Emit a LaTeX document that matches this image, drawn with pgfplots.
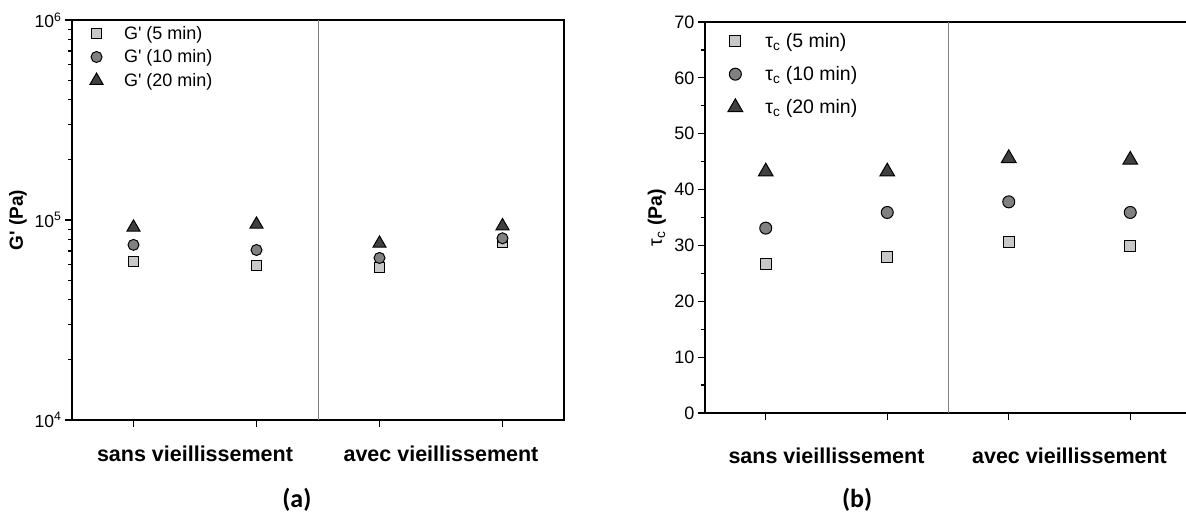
\documentclass[border=0pt]{standalone}
\usepackage{fontspec}
\setmainfont{Liberation Sans}
\newfontfamily\carlito{Carlito}
\usepackage{pgfplots}
\usepackage{pgfplotstable}
\pgfplotsset{compat=1.18}

\definecolor{fillA}{HTML}{C8C8C8}
\definecolor{fillB}{HTML}{808080}
\definecolor{fillC}{HTML}{404040}
\definecolor{sep}{HTML}{808080}

% G' (Pa) at 5, 10, 20 min
\pgfplotstableread{
x five ten twenty
1 61700 75100 91900
2 58900 70800 95100
3 58000 64600 76400
4 77000 81000 93300
}\gdata

% tau_c (Pa) at 5, 10, 20 min
\pgfplotstableread{
x five ten twenty
1 26.7 33.1 43.2
2 27.9 35.9 43.2
3 30.7 37.8 45.6
4 29.9 35.9 45.3
}\tdata

\pgfplotsset{
  panel/.style={
    scale only axis,
    xmin=0.5, xmax=4.5,
    xtick={1,2,3,4}, xticklabels={,,,},
    extra x ticks={1.5,3.5},
    extra x tick labels={sans vieillissement,avec vieillissement},
    tick pos=left, tick align=outside,
    major tick length=7pt, minor tick length=4pt,
    axis line style={line width=1.2pt},
    every tick/.style={black, line width=1.2pt},
    tick label style={font=\fontsize{18}{20}\selectfont},
    /pgf/number format/assume math mode=true,
    ylabel style={rotate=0, anchor=center},
    xlabel style={anchor=center, font=\carlito\bfseries\fontsize{26}{28}\selectfont},
    legend style={draw=none, fill=none, anchor=north west,
      font=\fontsize{18}{20}\selectfont, cells={anchor=west}},
    legend cell align=left,
  },
  sq/.style={only marks, mark=square*, mark size=#1,
    mark options={fill=fillA, draw=black, line width=1pt}},
  ci/.style={only marks, mark=*, mark size=#1,
    mark options={fill=fillB, draw=black, line width=1pt}},
  tr/.style={only marks, mark=triangle*, mark size=#1,
    mark options={fill=fillC, draw=black, line width=1pt}},
}

\begin{document}
\begin{tikzpicture}[x=1pt,y=1pt]
\path[use as bounding box, clip] (0,0) rectangle (1186,513);

\begin{axis}[panel,
  at={(72pt,93pt)}, anchor=south west, width=492pt, height=400pt,
  ymode=log, ymin=1e4, ymax=1e6,
  ytick={1e4,1e5,1e6},
  yticklabels={10\textsuperscript{4},10\textsuperscript{5},10\textsuperscript{6}},
  minor ytick={2e4,3e4,4e4,5e4,6e4,7e4,8e4,9e4,2e5,3e5,4e5,5e5,6e5,7e5,8e5,9e5},
  yticklabel style={font=\fontsize{17.5}{20}\selectfont},
  extra x tick style={major tick length=0pt,
    tick label style={font=\bfseries\fontsize{21.5}{24}\selectfont, yshift=-22pt}},
  ylabel={\bfseries G\textquotesingle\ (Pa)},
  ylabel style={at={(axis description cs:-0.11,0.5)}, rotate=0, font=\fontsize{19}{22}\selectfont},
  xlabel={(a)},
  xlabel style={at={(axis description cs:0.457,-0.2)}},
  legend style={at={(axis description cs:0.02,0.995)}, row sep=5pt},
  legend image code/.code={\path[draw=none] (0pt,-1pt) rectangle (37pt,1pt); \draw[#1] plot coordinates {(11.5pt,0pt)};},
]
\addplot[sep, line width=0.8pt, forget plot] coordinates {(2.5,1e4) (2.5,1e6)};
\addplot[sq=5pt] table[x=x, y=five] {\gdata};
\addlegendentry{G\textquotesingle\ (5 min)}
\addplot[ci=5.5pt] table[x=x, y=ten] {\gdata};
\addlegendentry{G\textquotesingle\ (10 min)}
\addplot[tr=7.5pt] table[x=x, y=twenty] {\gdata};
\addlegendentry{G\textquotesingle\ (20 min)}
\end{axis}

\begin{axis}[panel,
  at={(705pt,100pt)}, anchor=south west, width=486pt, height=391pt,
  ymin=0, ymax=70,
  ytick={0,10,...,70}, minor ytick={5,15,...,65},
  extra x tick style={major tick length=0pt,
    tick label style={font=\bfseries\fontsize{21.5}{24}\selectfont, yshift=-31pt}},
  ylabel={τ\textsubscript{c} \bfseries (Pa)},
  ylabel style={at={(axis description cs:-0.099,0.5)}, font=\fontsize{19.5}{22}\selectfont},
  xlabel={(b)},
  xlabel style={at={(axis description cs:0.313,-0.223)}},
  legend style={at={(axis description cs:0.025,0.982)}, row sep=13.5pt,
    font=\fontsize{19.5}{22}\selectfont},
  legend image code/.code={\path[draw=none] (0pt,-1pt) rectangle (43pt,1pt); \draw[#1] plot coordinates {(15pt,0pt)};},
]
\addplot[sep, line width=0.8pt, forget plot] coordinates {(2.5,0) (2.5,70)};
\addplot[sq=5.5pt] table[x=x, y=five] {\tdata};
\addlegendentry{τ\textsubscript{c} (5 min)}
\addplot[ci=6pt] table[x=x, y=ten] {\tdata};
\addlegendentry{τ\textsubscript{c} (10 min)}
\addplot[tr=8.5pt] table[x=x, y=twenty] {\tdata};
\addlegendentry{τ\textsubscript{c} (20 min)}
\end{axis}
\end{tikzpicture}
\end{document}
